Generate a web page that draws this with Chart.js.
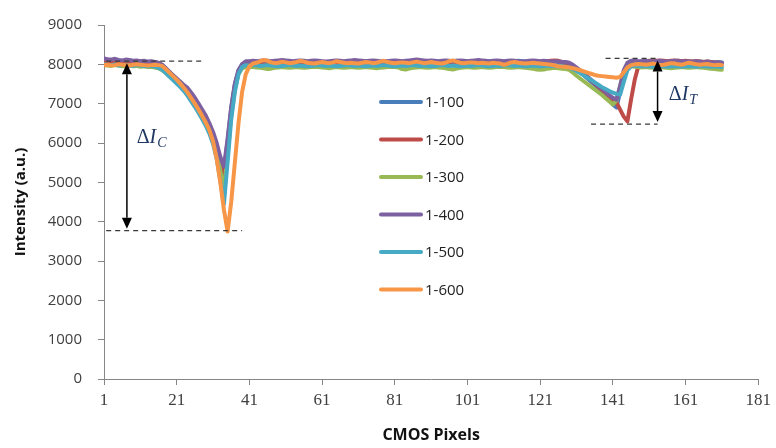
<!DOCTYPE html>
<html>
<head>
<meta charset="utf-8">
<script src="https://cdn.jsdelivr.net/npm/chart.js@4.4.1/dist/chart.umd.min.js"></script>
<style>
  body { margin: 0; background: #fff; }
  #wrap { width: 776px; height: 448px; }
</style>
</head>
<body>
<div id="wrap"><canvas id="myChart" width="776" height="448"></canvas></div>
<script>
// CMOS pixel index 1..171 for every series
var pixels = [];
for (var p = 1; p <= 171; p++) pixels.push(p);

var xTicks = [1, 21, 41, 61, 81, 101, 121, 141, 161, 181];
var yMax = 9000;
var yStep = 1000;

var seriesNames = ['1-100', '1-200', '1-300', '1-400', '1-500', '1-600'];
var seriesColors = ['#4A7EBB', '#BE4B48', '#98B954', '#7D60A0', '#46AAC5', '#F79646'];

var s100 = [
  8100, 8080, 8090, 8060, 8070, 8050, 8060, 8080, 8060, 8050, 8070, 8060, 8040, 8050, 8060, 8030,
  7980, 7900, 7800, 7720, 7630, 7540, 7440, 7320, 7180, 7040, 6890, 6740, 6570, 6380, 6150, 5880, 5560, 5300, 6050, 6900, 7500, 7850, 8000, 8050, 8060,
  8060, 8070, 8050, 8060, 8080, 8070, 8060, 8050, 8060, 8070,
  8080, 8060, 8050, 8070, 8060, 8050, 8060, 8080, 8070, 8060,
  8050, 8060, 8070, 8060, 8050, 8040, 8060, 8070, 8060, 8050,
  8060, 8080, 8070, 8060, 8050, 8060, 8070, 8080, 8060, 8050,
  8060, 8070, 8060, 8050, 8060, 8070, 8080, 8070, 8060, 8050,
  8060, 8070, 8060, 8050, 8060, 8080, 8090, 8070, 8060, 8070,
  8060, 8050, 8060, 8070, 8080, 8070, 8060, 8070, 8080, 8070,
  8060, 8070, 8080, 8090, 8080, 8070, 8060, 8070, 8080, 8070,
  8060, 8070, 8080, 8070, 8060, 8040, 8020,
  7990, 7950, 7880, 7800, 7720, 7640, 7560, 7480, 7400, 7320, 7240, 7120, 6980, 6900, 7300, 7700, 7950, 8050, 8070, 8060,
  8070, 8080, 8070, 8060, 8070, 8080, 8070, 8060, 8070, 8080, 8090, 8080, 8070, 8060, 8070, 8080, 8070, 8060, 8070, 8060, 8050, 8060, 8050
];

var s200 = [
  8050, 8040, 8060, 8050, 8030, 8050, 8040, 8060, 8050, 8030, 8040, 8050, 8030, 8040, 8020, 8000,
  7960, 7880, 7790, 7700, 7610, 7520, 7420, 7300, 7170, 7030, 6880, 6720, 6550, 6350, 6120, 5850, 5500, 5150, 5900, 6800, 7450, 7800, 7980, 8030, 8050,
  8040, 8050, 8030, 8040, 8050, 8040, 8030, 8040, 8050, 8060,
  8040, 8030, 8040, 8050, 8040, 8030, 8040, 8050, 8040, 8030,
  8040, 8050, 8060, 8040, 8030, 8040, 8050, 8040, 8030, 8040,
  8050, 8040, 8030, 8040, 8050, 8060, 8050, 8040, 8030, 8040,
  8050, 8040, 8030, 8040, 8050, 8040, 8030, 8040, 8050, 8060,
  8050, 8040, 8030, 8040, 8050, 8040, 8030, 8040, 8050, 8040,
  8030, 8040, 8050, 8060, 8050, 8040, 8050, 8060, 8050, 8040,
  8050, 8060, 8070, 8060, 8050, 8060, 8070, 8080, 8070, 8060,
  8070, 8080, 8090, 8100, 8090, 8060, 8030,
  8000, 7960, 7900, 7830, 7750, 7670, 7590, 7510, 7430, 7350, 7270, 7190, 7110, 7030, 6850, 6670, 6550, 7100, 7600, 7950,
  8060, 8080, 8090, 8080, 8090, 8100, 8090, 8080, 8090, 8100, 8090, 8080, 8090, 8080, 8070, 8080, 8070, 8060, 8070, 8060, 8050, 8040, 8030
];

var s300 = [
  7980, 7970, 7960, 7980, 7970, 7950, 7960, 7970, 7950, 7960, 7940, 7950, 7930, 7940, 7920, 7900,
  7850, 7780, 7700, 7620, 7540, 7450, 7350, 7230, 7100, 6960, 6810, 6650, 6480, 6280, 6040, 5740, 5300, 4800, 5700, 6700, 7350, 7750, 7900, 7930, 7930,
  7930, 7920, 7910, 7900, 7880, 7890, 7910, 7920, 7930, 7920,
  7910, 7920, 7930, 7920, 7910, 7920, 7930, 7940, 7930, 7920,
  7910, 7900, 7920, 7930, 7920, 7910, 7920, 7930, 7920, 7910,
  7920, 7930, 7920, 7910, 7900, 7910, 7920, 7930, 7940, 7930,
  7920, 7880, 7870, 7890, 7910, 7920, 7930, 7920, 7910, 7920,
  7930, 7920, 7910, 7900, 7880, 7870, 7890, 7910, 7920, 7930,
  7920, 7910, 7920, 7930, 7920, 7910, 7920, 7930, 7940, 7930,
  7920, 7910, 7920, 7930, 7920, 7910, 7900, 7890, 7870, 7860,
  7870, 7890, 7900, 7910, 7900, 7890, 7880,
  7860, 7790, 7710, 7640, 7570, 7500, 7430, 7360, 7290, 7220, 7140, 7060, 6980, 7080, 7450, 7800, 7930, 7950, 7940, 7930,
  7920, 7930, 7920, 7910, 7920, 7930, 7920, 7910, 7900, 7910, 7920, 7930, 7920, 7910, 7920, 7930, 7920, 7910, 7900, 7890, 7880, 7870, 7860
];

var s400 = [
  8150, 8130, 8120, 8140, 8110, 8100, 8120, 8110, 8090, 8100, 8080, 8090, 8070, 8080, 8060, 8040,
  7990, 7900, 7810, 7720, 7640, 7560, 7470, 7400, 7280, 7150, 7000, 6850, 6700, 6500, 6280, 6000, 5650, 5400, 6100, 6900, 7500, 7850, 8000, 8080, 8080,
  8090, 8080, 8090, 8100, 8090, 8080, 8090, 8100, 8110, 8100,
  8090, 8080, 8090, 8100, 8090, 8080, 8090, 8100, 8090, 8080,
  8070, 8080, 8090, 8100, 8090, 8080, 8090, 8100, 8110, 8100,
  8090, 8080, 8090, 8100, 8090, 8080, 8070, 8080, 8090, 8100,
  8090, 8080, 8090, 8100, 8110, 8120, 8110, 8100, 8090, 8100,
  8090, 8080, 8090, 8100, 8090, 8080, 8090, 8100, 8090, 8080,
  8090, 8100, 8110, 8100, 8090, 8080, 8090, 8100, 8090, 8080,
  8090, 8100, 8090, 8080, 8070, 8080, 8090, 8100, 8090, 8080,
  8090, 8080, 8070, 8080, 8070, 8060, 8060,
  8040, 7990, 7920, 7850, 7770, 7690, 7610, 7530, 7450, 7380, 7300, 7220, 7150, 7100, 7450, 7850, 8040, 8090, 8090, 8080,
  8080, 8090, 8080, 8070, 8080, 8090, 8080, 8070, 8080, 8090, 8080, 8070, 8080, 8070, 8060, 8070, 8060, 8050, 8060, 8050, 8040, 8050, 8040
];

var s500 = [
  8000, 7990, 7980, 8000, 7970, 7980, 7990, 7970, 7960, 7980, 7970, 7960, 7950, 7960, 7940, 7910,
  7860, 7780, 7690, 7600, 7510, 7420, 7320, 7200, 7060, 6920, 6770, 6610, 6440, 6240, 5980, 5600, 5050, 4450, 5500, 6600, 7300, 7750, 7930, 7980, 7970,
  7980, 7970, 7960, 7970, 7980, 7970, 7960, 7950, 7960, 7970,
  7980, 7970, 7960, 7970, 7960, 7950, 7960, 7970, 7980, 7970,
  7960, 7970, 7960, 7950, 7960, 7970, 7980, 7970, 7960, 7970,
  7960, 7950, 7960, 7970, 7960, 7970, 7980, 7970, 7960, 7950,
  7960, 7970, 7960, 7970, 7980, 7970, 7960, 7970, 7960, 7950,
  7960, 7970, 7980, 7970, 7960, 7970, 7960, 7950, 7960, 7970,
  7960, 7970, 7980, 7970, 7960, 7950, 7960, 7970, 7960, 7970,
  7980, 7970, 7960, 7970, 7960, 7950, 7960, 7970, 7960, 7950,
  7960, 7970, 7960, 7950, 7960, 7950, 7940,
  7920, 7880, 7830, 7780, 7720, 7660, 7600, 7540, 7480, 7420, 7370, 7320, 7280, 7250, 7230, 7550, 7850, 7950, 7970, 7960,
  7950, 7960, 7950, 7940, 7950, 7960, 7950, 7940, 7950, 7960, 7950, 7940, 7950, 7960, 7950, 7940, 7950, 7960, 7950, 7940, 7950, 7940, 7930
];

var s600 = [
  7980, 7990, 7970, 7980, 8000, 7990, 7980, 7970, 7990, 8000, 7990, 7980, 7970, 7980, 7990, 7980,
  7960, 7880, 7790, 7700, 7610, 7510, 7400, 7280, 7140, 7000, 6850, 6690, 6520, 6330, 6050, 5600, 5000, 4300, 3750, 4500, 5500, 6500, 7300, 7750, 7950,
  8020, 8040, 8080, 8110, 8090, 8050, 8030, 8040, 8070, 8050,
  8030, 8040, 8060, 8090, 8070, 8040, 8030, 8020, 8040, 8060,
  8040, 8030, 8050, 8080, 8060, 8040, 8030, 8040, 8030, 8020,
  8040, 8060, 8050, 8030, 8040, 8070, 8090, 8060, 8040, 8030,
  8040, 8050, 8040, 8030, 8050, 8070, 8050, 8030, 8040, 8060,
  8040, 8030, 8020, 8040, 8080, 8100, 8070, 8040, 8030, 8040,
  8050, 8040, 8030, 8040, 8030, 8020, 8040, 8030, 8020, 7990,
  8010, 8050, 8060, 8040, 8030, 8020, 8030, 8040, 8030, 8020,
  8010, 8000, 7990, 7970, 7950, 7940, 7930,
  7920, 7900, 7880, 7850, 7820, 7790, 7760, 7730, 7710, 7700, 7690, 7680, 7670, 7660, 7680, 7800, 7920, 7980, 8000, 8010,
  8000, 7990, 8000, 8020, 8000, 7980, 7990, 8010, 8030, 8020, 8000, 7990, 8020, 8040, 8020, 8000, 7990, 8000, 8010, 7990, 7980, 7990, 7980
];

var seriesValues = [s100, s200, s300, s400, s500, s600];

// levels marked by the dashed lines and arrows (intensity units)
var levelC = [8080, 3770];
var levelT = [8150, 6480];

var axisGray = '#868686';
var textGray = '#404040';

function dashedLevel(ctx, xs, ys, x1, x2, v) {
    var py = ys.getPixelForValue(v);
    ctx.beginPath();
    ctx.moveTo(xs.getPixelForValue(x1), py);
    ctx.lineTo(xs.getPixelForValue(x2), py);
    ctx.stroke();
}

function doubleArrow(ctx, px, y1, y2) {
    var head = 11, half = 5;
    ctx.beginPath();
    ctx.moveTo(px, y1 + head);
    ctx.lineTo(px, y2 - head);
    ctx.stroke();
    ctx.beginPath();
    ctx.moveTo(px, y1);
    ctx.lineTo(px - half, y1 + head);
    ctx.lineTo(px + half, y1 + head);
    ctx.closePath();
    ctx.fill();
    ctx.beginPath();
    ctx.moveTo(px, y2);
    ctx.lineTo(px - half, y2 - head);
    ctx.lineTo(px + half, y2 - head);
    ctx.closePath();
    ctx.fill();
}

function deltaLabel(ctx, px, py, sub) {
    ctx.fillStyle = '#1F3763';
    ctx.textBaseline = 'alphabetic';
    ctx.textAlign = 'left';
    ctx.font = '20px "Liberation Serif"';
    ctx.fillText('\u0394', px, py);
    px += ctx.measureText('\u0394').width;
    ctx.font = 'italic 20px "Liberation Serif"';
    ctx.fillText('I', px, py);
    px += ctx.measureText('I').width + 1;
    ctx.font = 'italic 14px "Liberation Serif"';
    ctx.fillText(sub, px, py + 4);
}

var annotate = {
    id: 'annotate',
    afterDatasetsDraw: function (chart) {
        var ctx = chart.ctx;
        var xs = chart.scales.x, ys = chart.scales.y;
        ctx.save();

        // dashed reference levels
        ctx.strokeStyle = '#3a3a3a';
        ctx.lineWidth = 1.2;
        ctx.setLineDash([5, 4]);
        dashedLevel(ctx, xs, ys, 1.6, 28, levelC[0]);
        dashedLevel(ctx, xs, ys, 1.6, 39, levelC[1]);
        dashedLevel(ctx, xs, ys, 139, 153.6, levelT[0]);
        dashedLevel(ctx, xs, ys, 135, 153.3, levelT[1]);
        ctx.setLineDash([]);

        // arrows between the levels
        ctx.strokeStyle = '#000';
        ctx.fillStyle = '#000';
        ctx.lineWidth = 1.5;
        doubleArrow(ctx, xs.getPixelForValue(7.3), ys.getPixelForValue(levelC[0]) + 2, ys.getPixelForValue(levelC[1]) - 2);
        doubleArrow(ctx, xs.getPixelForValue(153.3), ys.getPixelForValue(levelT[0]) + 2, ys.getPixelForValue(levelT[1]) - 2);

        deltaLabel(ctx, xs.getPixelForValue(10), ys.getPixelForValue(6000), 'C');
        deltaLabel(ctx, xs.getPixelForValue(156.4), ys.getPixelForValue(7100), 'T');

        // legend inside the plot
        ctx.lineCap = 'round';
        ctx.font = '15px "Open Sans"';
        ctx.textBaseline = 'middle';
        ctx.textAlign = 'left';
        for (var k = 0; k < seriesNames.length; k++) {
            var ly = 102 + k * 37.5;
            ctx.strokeStyle = seriesColors[k];
            ctx.lineWidth = 4;
            ctx.beginPath();
            ctx.moveTo(381, ly);
            ctx.lineTo(421, ly);
            ctx.stroke();
            ctx.fillStyle = '#222';
            ctx.fillText(seriesNames[k], 425, ly + 1);
        }
        ctx.restore();
    }
};

function createChart() {
    var ctx = document.getElementById('myChart');
    var datasets = seriesValues.map(function (vals, k) {
        return {
            label: seriesNames[k],
            data: vals.map(function (v, j) { return { x: pixels[j], y: v }; }),
            borderColor: seriesColors[k],
            borderWidth: 4,
            borderJoinStyle: 'round',
            borderCapStyle: 'round',
            pointRadius: 0,
            tension: 0,
            fill: false,
            order: seriesNames.length - k
        };
    });

    window.myLine = new Chart(ctx, {
        type: 'line',
        data: { datasets: datasets },
        options: {
            responsive: false,
            animation: false,
            layout: { padding: { top: 19, right: 13, left: 0, bottom: 0 } },
            plugins: { legend: { display: false }, tooltip: { enabled: false } },
            scales: {
                x: {
                    type: 'linear',
                    min: 1,
                    max: 181,
                    afterBuildTicks: function (s) {
                        s.ticks = xTicks.map(function (v) { return { value: v }; });
                    },
                    afterFit: function (s) { s.height = 69; },
                    grid: { drawOnChartArea: false, drawTicks: true, tickLength: 6, color: axisGray },
                    border: { color: axisGray },
                    ticks: {
                        autoSkip: false,
                        maxRotation: 0,
                        padding: 5,
                        color: textGray,
                        font: { family: 'Liberation Serif', size: 17 }
                    },
                    title: {
                        display: true,
                        text: 'CMOS Pixels',
                        color: '#111',
                        font: { family: 'Open Sans', size: 16, weight: 'bold' },
                        padding: { top: 0, bottom: 3 }
                    }
                },
                y: {
                    min: 0,
                    max: yMax,
                    afterFit: function (s) { s.width = 104; },
                    grid: { drawOnChartArea: false, drawTicks: true, tickLength: 6, color: axisGray },
                    border: { color: axisGray },
                    ticks: {
                        stepSize: yStep,
                        padding: 16,
                        color: textGray,
                        font: { family: 'Open Sans', size: 15 },
                        callback: function (v) { return String(v); }
                    },
                    title: {
                        display: true,
                        text: 'Intensity (a.u.)',
                        color: '#111',
                        font: { family: 'Open Sans', size: 15, weight: 'bold' },
                        padding: { top: 12, bottom: 0 }
                    }
                }
            }
        },
        plugins: [annotate]
    });
}

createChart();
</script>
</body>
</html>
